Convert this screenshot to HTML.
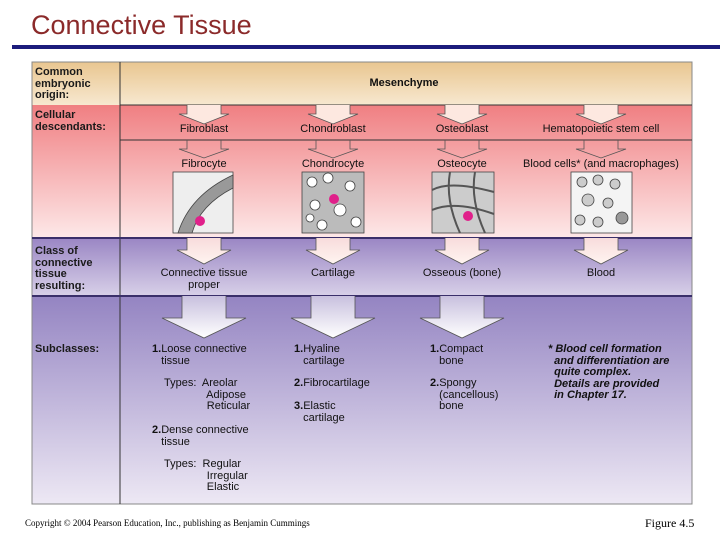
<!DOCTYPE html>
<html><head><meta charset="utf-8"><style>
body{margin:0;width:720px;height:540px;background:#fff;position:relative;overflow:hidden;font-family:"Liberation Sans",Arial,sans-serif}
.a{position:absolute;white-space:nowrap}
.l{position:absolute;left:35px;font-weight:bold;font-size:11px;line-height:11.5px;color:#1a1a1a}
.t{position:absolute;font-size:11px;color:#111;line-height:11.5px;white-space:nowrap}
.c{transform:translateX(-50%);text-align:center}
</style></head><body>
<div class="a" style="left:31px;top:10px;font-size:27px;color:#8b2a2a">Connective Tissue</div>
<div class="a" style="left:12px;top:45px;width:708px;height:4px;background:#1c1c7c"></div>
<svg class="a" style="left:0;top:0" width="720" height="540">
<defs>
<linearGradient id="g1" x1="0" y1="0" x2="0" y2="1"><stop offset="0" stop-color="#e9c690"/><stop offset="1" stop-color="#f7e8d0"/></linearGradient>
<linearGradient id="g2" x1="0" y1="0" x2="0" y2="1"><stop offset="0" stop-color="#f07f82"/><stop offset="1" stop-color="#fde8e8"/></linearGradient>
<linearGradient id="g3" x1="0" y1="0" x2="0" y2="1"><stop offset="0" stop-color="#9a86c4"/><stop offset="1" stop-color="#d8d0e8"/></linearGradient>
<linearGradient id="g4" x1="0" y1="0" x2="0" y2="1"><stop offset="0" stop-color="#9484c2"/><stop offset="1" stop-color="#ede8f4"/></linearGradient>
<linearGradient id="ar" x1="0" y1="0" x2="0" y2="1"><stop offset="0" stop-color="#f8dcdc"/><stop offset="1" stop-color="#fff4f0"/></linearGradient>
<linearGradient id="ar2" x1="0" y1="0" x2="0" y2="1"><stop offset="0" stop-color="#c8c0de"/><stop offset="1" stop-color="#ffffff"/></linearGradient>
</defs>
<rect x="32" y="62" width="660" height="43" fill="url(#g1)"/>
<rect x="32" y="105" width="660" height="133" fill="url(#g2)"/>
<rect x="32" y="238" width="660" height="58" fill="url(#g3)"/>
<rect x="32" y="296" width="660" height="208" fill="url(#g4)"/>
<g stroke="#333" stroke-width="1" fill="none">
<rect x="32" y="62" width="660" height="442" stroke="#888"/>
<line x1="120" y1="62" x2="120" y2="504"/>
<line x1="120" y1="105" x2="692" y2="105"/>
<line x1="120" y1="140" x2="692" y2="140"/>
<line x1="32" y1="238" x2="692" y2="238" stroke="#3a2f6a" stroke-width="2"/>
<line x1="32" y1="296" x2="692" y2="296" stroke="#3a2f6a" stroke-width="2"/>
</g>
<g stroke="#555" stroke-width="0.8" fill="#fbe3e0">
<path d="M187,105 V114 H179 L204,124 L229,114 H221 V105" fill="#fde8e0"/>
<path d="M316,105 V114 H308 L333,124 L358,114 H350 V105" fill="#fde8e0"/>
<path d="M445,105 V114 H437 L462,124 L487,114 H479 V105" fill="#fde8e0"/>
<path d="M584,105 V114 H576 L601,124 L626,114 H618 V105" fill="#fde8e0"/>
<path d="M187,140 V149 H179 L204,158 L229,149 H221 V140" fill="none"/>
<path d="M316,140 V149 H308 L333,158 L358,149 H350 V140" fill="none"/>
<path d="M445,140 V149 H437 L462,158 L487,149 H479 V140" fill="none"/>
<path d="M584,140 V149 H576 L601,158 L626,149 H618 V140" fill="none"/>
<path d="M187,238 V250 H177 L204,264 L231,250 H221 V238" fill="url(#ar)"/>
<path d="M316,238 V250 H306 L333,264 L360,250 H350 V238" fill="url(#ar)"/>
<path d="M445,238 V250 H435 L462,264 L489,250 H479 V238" fill="url(#ar)"/>
<path d="M584,238 V250 H574 L601,264 L628,250 H618 V238" fill="url(#ar)"/>
<path d="M182,296 V318 H162 L204,338 L246,318 H226 V296" fill="url(#ar2)"/>
<path d="M311,296 V318 H291 L333,338 L375,318 H355 V296" fill="url(#ar2)"/>
<path d="M440,296 V318 H420 L462,338 L504,318 H484 V296" fill="url(#ar2)"/>
</g>
<g stroke="#444" stroke-width="0.8">
<rect x="173" y="172" width="60" height="61" fill="#eee"/>
<path d="M178,233 Q190,195 233,175 L233,188 Q200,205 192,233Z" fill="#999"/>
<rect x="302" y="172" width="62" height="61" fill="#bbb"/>
<g fill="#fff"><circle cx="312" cy="182" r="5"/><circle cx="328" cy="178" r="5"/><circle cx="350" cy="186" r="5"/><circle cx="315" cy="205" r="5"/><circle cx="340" cy="210" r="6"/><circle cx="356" cy="222" r="5"/><circle cx="322" cy="225" r="5"/><circle cx="310" cy="218" r="4"/></g>
<rect x="432" y="172" width="62" height="61" fill="#ccc"/>
<path d="M432,190 Q450,180 494,192 M432,210 Q455,200 494,214 M450,172 Q445,200 460,233 M475,172 Q470,200 485,233" fill="none" stroke="#555" stroke-width="2"/>
<rect x="571" y="172" width="61" height="61" fill="#f4f4f4"/>
<g fill="#ccc"><circle cx="582" cy="182" r="5"/><circle cx="598" cy="180" r="5"/><circle cx="615" cy="184" r="5"/><circle cx="588" cy="200" r="6"/><circle cx="608" cy="203" r="5"/><circle cx="622" cy="218" r="6" fill="#999"/><circle cx="580" cy="220" r="5"/><circle cx="598" cy="222" r="5"/></g>
</g>
<g fill="#e0208a"><circle cx="200" cy="221" r="5"/><circle cx="334" cy="199" r="5"/><circle cx="468" cy="216" r="5"/></g>
</svg>
<div class="l" style="top:67px">Common<br>embryonic<br>origin:</div>
<div class="l" style="top:110px">Cellular<br>descendants:</div>
<div class="l" style="top:246px">Class of<br>connective<br>tissue<br>resulting:</div>
<div class="l" style="top:344px">Subclasses:</div>
<div class="t c" style="left:404px;top:78px;font-weight:bold">Mesenchyme</div>
<div class="t c" style="left:204px;top:124px">Fibroblast</div>
<div class="t c" style="left:333px;top:124px">Chondroblast</div>
<div class="t c" style="left:462px;top:124px">Osteoblast</div>
<div class="t c" style="left:601px;top:124px">Hematopoietic stem cell</div>
<div class="t c" style="left:204px;top:159px">Fibrocyte</div>
<div class="t c" style="left:333px;top:159px">Chondrocyte</div>
<div class="t c" style="left:462px;top:159px">Osteocyte</div>
<div class="t c" style="left:601px;top:159px">Blood cells* (and macrophages)</div>
<div class="t c" style="left:204px;top:268px">Connective tissue<br>proper</div>
<div class="t c" style="left:333px;top:268px">Cartilage</div>
<div class="t c" style="left:462px;top:268px">Osseous (bone)</div>
<div class="t c" style="left:601px;top:268px">Blood</div>
<div class="t" style="left:152px;top:344px"><b>1.</b>Loose connective<br>&nbsp;&nbsp;&nbsp;tissue</div>
<div class="t" style="left:164px;top:378px">Types:&nbsp; Areolar<br>&nbsp;&nbsp;&nbsp;&nbsp;&nbsp;&nbsp;&nbsp;&nbsp;&nbsp;&nbsp;&nbsp;&nbsp;&nbsp; Adipose<br>&nbsp;&nbsp;&nbsp;&nbsp;&nbsp;&nbsp;&nbsp;&nbsp;&nbsp;&nbsp;&nbsp;&nbsp;&nbsp; Reticular</div>
<div class="t" style="left:152px;top:425px"><b>2.</b>Dense connective<br>&nbsp;&nbsp;&nbsp;tissue</div>
<div class="t" style="left:164px;top:459px">Types:&nbsp; Regular<br>&nbsp;&nbsp;&nbsp;&nbsp;&nbsp;&nbsp;&nbsp;&nbsp;&nbsp;&nbsp;&nbsp;&nbsp;&nbsp; Irregular<br>&nbsp;&nbsp;&nbsp;&nbsp;&nbsp;&nbsp;&nbsp;&nbsp;&nbsp;&nbsp;&nbsp;&nbsp;&nbsp; Elastic</div>
<div class="t" style="left:294px;top:344px"><b>1.</b>Hyaline<br>&nbsp;&nbsp;&nbsp;cartilage</div>
<div class="t" style="left:294px;top:378px"><b>2.</b>Fibrocartilage</div>
<div class="t" style="left:294px;top:401px"><b>3.</b>Elastic<br>&nbsp;&nbsp;&nbsp;cartilage</div>
<div class="t" style="left:430px;top:344px"><b>1.</b>Compact<br>&nbsp;&nbsp;&nbsp;bone</div>
<div class="t" style="left:430px;top:378px"><b>2.</b>Spongy<br>&nbsp;&nbsp;&nbsp;(cancellous)<br>&nbsp;&nbsp;&nbsp;bone</div>
<div class="t" style="left:548px;top:344px;font-style:italic;font-weight:bold">* Blood cell formation<br>&nbsp;&nbsp;and differentiation are<br>&nbsp;&nbsp;quite complex.<br>&nbsp;&nbsp;Details are provided<br>&nbsp;&nbsp;in Chapter 17.</div>
<div class="a" style="left:25px;top:518px;font-family:'Liberation Serif',serif;font-size:9px">Copyright © 2004 Pearson Education, Inc., publishing as Benjamin Cummings</div>
<div class="a" style="left:645px;top:516px;font-family:'Liberation Serif',serif;font-size:12px">Figure 4.5</div>
</body></html>
